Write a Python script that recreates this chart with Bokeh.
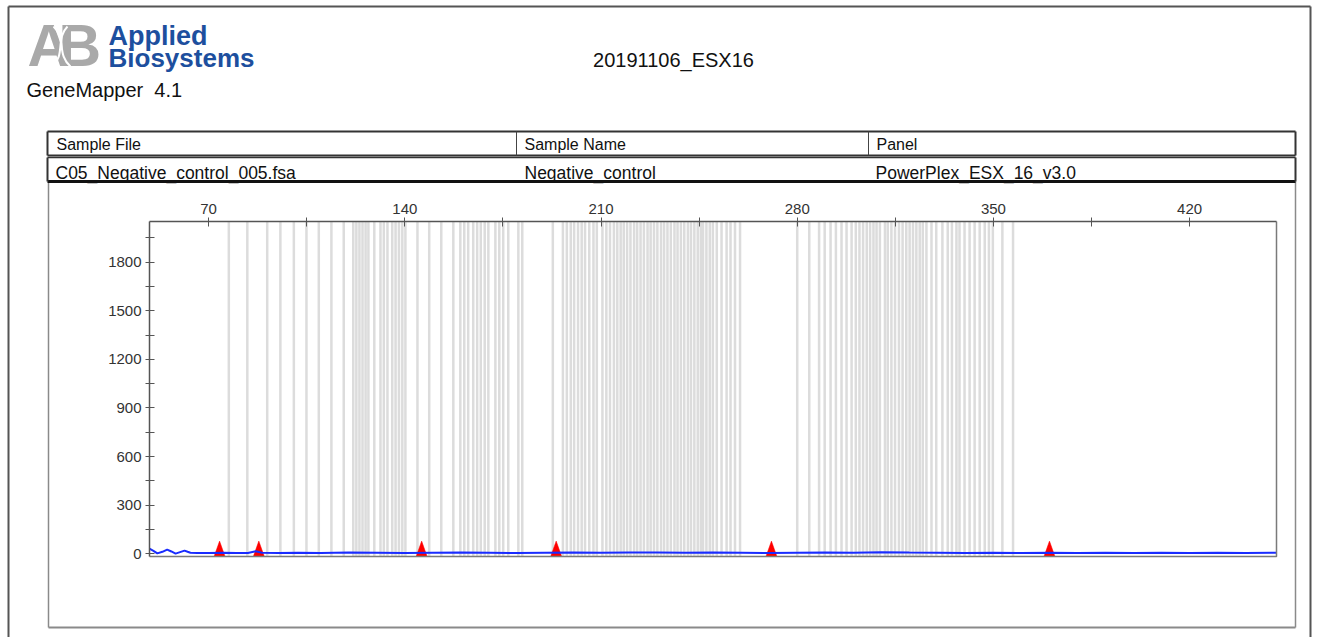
from bokeh.plotting import figure
from bokeh.models import FixedTicker, Range1d, ColumnDataSource, LinearAxis
from bokeh.core.properties import value
from bokeh.embed import file_html
from bokeh.resources import INLINE

# ---------------- data ----------------
title_text = "20191106_ESX16"
software_text = "GeneMapper\u00a0\u00a04.1"
header_labels = ["Sample File", "Sample Name", "Panel"]
header_values = ["C05_Negative_control_005.fsa", "Negative_control", "PowerPlex_ESX_16_v3.0"]

x_ticks = [70, 140, 210, 280, 350, 420]
x_minor_ticks = [105, 175, 245, 315, 385]
y_ticks = [0, 300, 600, 900, 1200, 1500, 1800]
y_minor_ticks = [150, 450, 750, 1050, 1350, 1650, 1950]

# allele bin positions (bp)
bins_a = [77.2, 83.8, 90.9, 95.6, 100.4, 104.9, 109.3, 113.8, 118.2, 121.6, 122.7, 123.8,
          124.9, 126.0, 127.0, 129.1, 131.3, 132.5, 133.8, 135.5, 136.7, 137.9, 139.1, 140.2,
          144.5, 148.7, 153.0, 157.3, 159.8, 161.2, 162.6, 164.4, 165.8, 167.1, 168.5, 169.8,
          172.3, 173.7, 175.1, 176.9, 180.5, 181.9]
bins_b = [192.8, 196.4, 197.8, 199.2, 200.4, 201.8, 203.1, 204.3, 205.8, 207.3, 208.5, 210.5,
          211.9, 213.2, 214.6, 215.8, 217.0, 218.1, 219.3, 220.5, 221.8, 222.9, 224.1, 225.3,
          226.6, 227.7, 228.9, 230.1, 231.4, 232.5, 233.7, 234.9, 236.2, 237.3, 238.5, 239.7,
          241.0, 242.1, 243.3, 244.5, 245.6, 246.4, 247.6, 248.8, 249.9, 251.3, 253.0, 254.8,
          256.2, 257.8, 259.6]
bins_c = [280.0, 284.3, 287.8, 289.8, 291.9, 293.8, 295.8, 297.6, 299.4, 300.9, 302.2, 303.5,
          304.8, 306.0, 307.2, 308.3, 309.5, 311.3, 312.3, 313.6, 314.9, 316.3, 317.6, 318.9,
          320.1, 321.3, 322.5, 323.7, 324.8, 326.1, 327.9, 329.6, 331.8, 333.7, 335.2, 336.8,
          337.9, 339.7, 341.5, 343.3, 345.1, 346.9, 348.4, 349.8, 353.2, 357.0]

# labelled peaks (bp)
peak_bp = [73.9, 87.9, 146.0, 194.0, 270.8, 370.0]

# blue dye trace
trace_bp = [48.9, 50.3, 51.7, 53.5, 55.2, 56.7, 58.2, 59.8, 61.4, 62.5, 63.5, 66, 70, 75, 80,
            84, 86.8, 89, 95, 102, 110, 120, 130, 140, 150, 160, 170, 180, 190, 200, 210, 220,
            230, 240, 250, 260, 270, 280, 290, 300, 310, 320, 330, 340, 350, 360, 370, 380, 390,
            400, 410, 420, 430, 440, 451]
trace_rfu = [31, 18, 2, 12, 26, 14, 1, 10, 19, 12, 6, 5, 5, 6, 5,
             5, 15, 6, 5, 6, 5, 7, 6, 5, 6, 7, 6, 5, 6, 7, 6, 8,
             7, 6, 7, 6, 5, 6, 7, 6, 10, 7, 6, 5, 6, 5, 6, 5, 6,
             4, 6, 5, 6, 5, 6]

# ---------------- geometry (page pixels) ----------------
W, H = 1320, 637
FL, FR, FT, FB = 149, 1276, 221, 556   # chart frame edges on the page
X0, X1 = 48.9, 451.0                    # visible bp range
Y0, Y1 = -17, 2051                      # visible RFU range
FONT = "Liberation Sans"

bp_per_px = (X1 - X0) / (FR - FL)
rfu_per_px = (Y1 - Y0) / (FB - FT)

p = figure(width=W, height=H, x_range=Range1d(0, W), y_range=Range1d(H, 0),
           x_axis_type=None, y_axis_type=None, min_border=0,
           output_backend="svg", toolbar_location=None)
p.grid.visible = False
p.outline_line_color = None
p.background_fill_color = "white"
p.border_fill_color = "white"
p.extra_x_ranges = {"bp": Range1d(X0 - FL * bp_per_px, X1 + (W - FR) * bp_per_px)}
p.extra_y_ranges = {"rfu": Range1d(Y0 - (H - FB) * rfu_per_px, Y1 + FT * rfu_per_px)}

# page decoration segments: x0, y0, x1, y1, color, width
deco = [
    (8, 6, 1310, 6, "#555555", 2),          # page border top
    (8, 6, 8, 637, "#555555", 2),           # page border left
    (1310, 6, 1310, 637, "#555555", 2),     # page border right
    (48, 181, 48, 627, "#8a8a8a", 1.5),     # panel left
    (1295, 181, 1295, 627, "#8a8a8a", 1.5), # panel right
    (48, 627, 1295, 627, "#8a8a8a", 2),     # panel bottom
    (47, 131, 1295, 131, "#333333", 2),     # table row 1
    (47, 155, 1295, 155, "#333333", 2),
    (47, 131, 47, 155, "#333333", 2),
    (1295, 131, 1295, 155, "#333333", 2),
    (516, 131, 516, 155, "#444444", 1),
    (868, 131, 868, 155, "#444444", 1),
    (47, 157, 1295, 157, "#333333", 1.5),   # table row 2
    (47, 181, 1295, 181, "#111111", 3),
    (47, 157, 47, 181, "#333333", 2),
    (1295, 157, 1295, 181, "#333333", 2),
]
p.segment(x0=[d[0] for d in deco], y0=[d[1] for d in deco], x1=[d[2] for d in deco],
          y1=[d[3] for d in deco], line_color=[d[4] for d in deco],
          line_width=[d[5] for d in deco])


def txt(X, Y, text, size, color="#111111", style="normal", align="left"):
    # Y is the wanted alphabetic baseline; bokeh places it ~0.36em lower
    p.text(x=[X], y=[Y - 0.36 * size], text=[text], text_font=value(FONT),
           text_font_size=f"{size}px", text_color=color, text_font_style=style,
           text_align=align, text_baseline="alphabetic")


# logo
txt(27, 67, "A", 59, color="#a9a9a9", style="bold")
txt(58, 67, "B", 59, color="#a9a9a9", style="bold")
p.bezier(x0=[53, 67], y0=[26, 26], x1=[70, 52], y1=[66, 66], cx0=[66, 55], cy0=[38, 38],
         cx1=[56, 65], cy1=[54, 54], line_color="white", line_width=2)
txt(108, 45, "Applied", 27, color="#1d4f9e", style="bold")
txt(108, 67, "Biosystems", 26, color="#1d4f9e", style="bold")

# title & software
txt(673, 67, title_text, 20, align="center")
txt(26, 97, software_text, 20)

# table texts
txt(56, 150, header_labels[0], 16)
txt(524, 150, header_labels[1], 16)
txt(876, 150, header_labels[2], 16)
txt(55, 178.5, header_values[0], 17.5)
txt(524, 178.5, header_values[1], 17.5)
txt(875, 178.5, header_values[2], 17.5)

# ---------------- chart (bp / RFU scales) ----------------
R = dict(x_range_name="bp", y_range_name="rfu")

bins = bins_a + bins_b + bins_c
bin_src = ColumnDataSource(dict(x=bins, y0=[Y0] * len(bins), y1=[Y1] * len(bins)))
p.segment(x0="x", x1="x", y0="y0", y1="y1", source=bin_src, line_color="#dcdcdc",
          line_width=2.5, **R)

tri_half_w = 1.96
tri_top = 78
tri_xs = [[b - tri_half_w, b + tri_half_w, b] for b in peak_bp]
tri_ys = [[Y0, Y0, tri_top] for _ in peak_bp]
p.patches(tri_xs, tri_ys, fill_color="#ff0000", line_color="#ff0000", line_width=0.5, **R)

p.line(trace_bp, trace_rfu, line_color="#1a2cff", line_width=2, **R)

# frame outline (right and bottom; top/left are the axes)
p.line([X0, X1, X1], [Y0, Y0, Y1], line_color="#7a7a7a", line_width=1.5, **R)

xa = LinearAxis(fixed_location=Y1, bounds=(X0, X1),
                ticker=FixedTicker(ticks=x_ticks, minor_ticks=x_minor_ticks), **R)
ya = LinearAxis(fixed_location=X0, bounds=(Y0, Y1),
                ticker=FixedTicker(ticks=y_ticks, minor_ticks=y_minor_ticks), **R)
for ax in (xa, ya):
    ax.axis_line_color = "#555555"
    ax.axis_line_width = 1.5
    ax.major_tick_line_color = "#555555"
    ax.minor_tick_line_color = "#555555"
    ax.major_tick_in = 5
    ax.major_tick_out = 4
    ax.minor_tick_in = 5
    ax.minor_tick_out = 4
    ax.major_label_text_font = FONT
    ax.major_label_text_font_size = "15px"
    ax.major_label_text_color = "#333333"
    ax.major_label_standoff = 4
p.add_layout(xa, "above")
p.add_layout(ya, "left")

open("out.html", "w").write(file_html(p, INLINE))
